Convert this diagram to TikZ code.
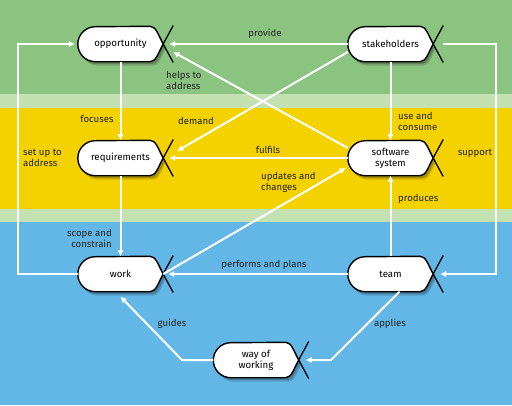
\documentclass[tikz,border=0pt]{standalone}
\usepackage{fontspec}
\setmainfont{Fira Sans}
\usetikzlibrary{arrows.meta,calc}
\pgfdeclarelayer{bands}
\pgfdeclarelayer{shapes}
\pgfsetlayers{bands,shapes,main}
\definecolor{bgreen}{RGB}{139,195,128}
\definecolor{blight}{RGB}{196,225,178}
\definecolor{byellow}{RGB}{244,210,0}
\definecolor{bblue}{RGB}{99,183,230}
\definecolor{txt}{RGB}{35,35,35}
\tikzset{
  alpha/.style={minimum width=85pt, minimum height=35pt, inner sep=0pt, align=center,
    font=\fontsize{9.7}{11}\selectfont, text=black},
  lbl/.style={font=\fontsize{9.6}{11}\selectfont, text=txt, inner sep=0pt},
  conn/.style={draw=white, line width=2pt, -{Latex[length=6pt,width=6.5pt]}},
}
\newcommand{\alphashape}[1]{%
  \fill[black,opacity=0.15] ([xshift=20.5pt,yshift=-4pt]#1.south west) arc (270:90:17.5pt)
     -- ([xshift=-10pt,yshift=-4pt]#1.north east)
     .. controls ([xshift=-4pt,yshift=-4pt]#1.north east) and ([xshift=-2pt,yshift=5pt]#1.east) .. ([xshift=3pt,yshift=-4pt]#1.east)
     .. controls ([xshift=-2pt,yshift=-13pt]#1.east) and ([xshift=-4pt,yshift=-4pt]#1.south east) .. ([xshift=-10pt,yshift=-4pt]#1.south east) -- cycle;
  \fill[black,opacity=0.2] ([xshift=19.5pt,yshift=-2.5pt]#1.south west) arc (270:90:17.5pt)
     -- ([xshift=-11pt,yshift=-2.5pt]#1.north east)
     .. controls ([xshift=-5pt,yshift=-2.5pt]#1.north east) and ([xshift=-3pt,yshift=6pt]#1.east) .. ([xshift=2pt,yshift=-2.5pt]#1.east)
     .. controls ([xshift=-3pt,yshift=-11pt]#1.east) and ([xshift=-5pt,yshift=-2.5pt]#1.south east) .. ([xshift=-11pt,yshift=-2.5pt]#1.south east) -- cycle;
  \draw[line width=1.4pt, fill=white] ([xshift=17.5pt]#1.south west) arc (270:90:17.5pt)
     -- ([xshift=-13pt]#1.north east)
     .. controls ([xshift=-7pt]#1.north east) and ([xshift=-5pt,yshift=8.75pt]#1.east) .. (#1.east)
     .. controls ([xshift=-5pt,yshift=-8.75pt]#1.east) and ([xshift=-7pt]#1.south east) .. ([xshift=-13pt]#1.south east) -- cycle;
  \draw[line width=1.3pt] (#1.east) -- ([xshift=10pt,yshift=-18.5pt]#1.east);
  \draw[line width=1.3pt] (#1.east) -- ([xshift=10pt,yshift=18.5pt]#1.east);
}
\begin{document}
\begin{tikzpicture}[x=1pt,y=-1pt]
\useasboundingbox (0,0) rectangle (512,405);
\begin{pgfonlayer}{bands}
  \fill[bgreen] (0,0) rectangle (512,94);
  \fill[blight] (0,94) rectangle (512,108);
  \fill[byellow] (0,108) rectangle (512,209);
  \fill[blight] (0,209) rectangle (512,222);
  \fill[bblue] (0,222) rectangle (512,405);
\end{pgfonlayer}

\node[alpha] (opp) at (120.5,44) {opportunity};
\node[alpha] (stk) at (390.5,44) {stakeholders};
\node[alpha] (req) at (120.5,158) {requirements};
\node[alpha] (sw) at (390.5,158) {software\\system};
\node[alpha] (work) at (120.5,274) {work};
\node[alpha] (team) at (390.5,274) {team};
\node[alpha] (wow) at (256,360) {way of\\working};

\begin{pgfonlayer}{shapes}
  \alphashape{opp}
  \alphashape{stk}
  \alphashape{req}
  \alphashape{sw}
  \alphashape{work}
  \alphashape{team}
  \alphashape{wow}
\end{pgfonlayer}

\coordinate (rt) at (496,274);
\coordinate (lf) at (18,44);
\coordinate (gd) at (182,360);
\coordinate (ap) at (331,360);

% connectors
\draw[conn] (stk.west) -- ([xshift=6pt]opp.east);
\draw[conn] (opp.south) -- (req.north);
\draw[conn] ([yshift=-8pt]stk.west) -- ([xshift=14pt,yshift=7pt]req.east);
\draw[conn] ([yshift=10pt]sw.west) -- ([xshift=10pt,yshift=-8pt]opp.east);
\draw[conn] (sw.west) -- ([xshift=6pt]req.east);
\draw[conn] (stk.south) -- (sw.north);
\draw[conn] ([xshift=10pt]stk.east) -| (rt) -- ([xshift=7pt]team.east);
\draw[conn] (req.south) -- (work.north);
\draw[conn] (work.west) -| (lf) -- ([xshift=-3pt]opp.west);
\draw[conn] (work.east) -- ([xshift=-2pt,yshift=-10pt]sw.west);
\draw[conn] (team.west) -- ([xshift=5pt]work.east);
\draw[conn] (team.north) -- (sw.south);
\draw[conn] (wow.west) -- (gd) -- ([yshift=-5pt]work.south);
\draw[conn] ([xshift=9pt]team.south) -- (ap) -- ([xshift=7pt]wow.east);

% labels
\node[lbl] (lprov) at (265,34) {provide};
\node[lbl] (lfoc) at (97,119) {focuses};
\node[lbl, anchor=west, align=left] (lhelp) at (166,80) {helps to\\address};
\node[lbl] (ldem) at (196,121) {demand};
\node[lbl, anchor=west, align=left] (lset) at (23,158) {set up to\\address};
\node[lbl] (lful) at (268,150) {fulfils};
\node[lbl, anchor=west, align=left] (luse) at (398,121) {use and\\consume};
\node[lbl] (lsup) at (475,153) {support};
\node[lbl, anchor=west, align=left] (lupd) at (261,182) {updates and\\changes};
\node[lbl, anchor=west] (lprod) at (398,199) {produces};
\node[lbl, anchor=east, align=right] (lscope) at (112,238) {scope and\\constrain};
\node[lbl] (lperf) at (264,265) {performs and plans};
\node[lbl] (lguide) at (172,324) {guides};
\node[lbl] (lapp) at (390,324) {applies};
\end{tikzpicture}
\end{document}
